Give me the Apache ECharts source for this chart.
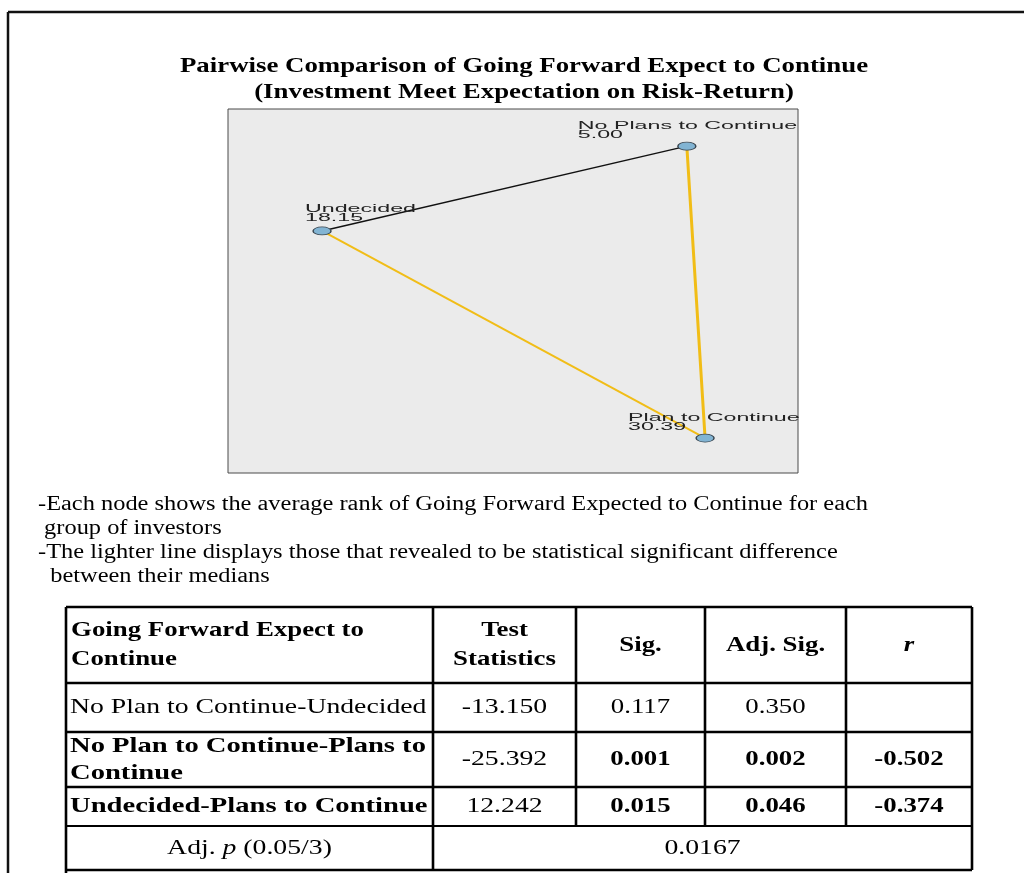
<!DOCTYPE html>
<html>
<head>
<meta charset="utf-8">
<script src="https://cdn.jsdelivr.net/npm/echarts@6/dist/echarts.min.js"></script>
<style>
  html, body { margin: 0; padding: 0; background: #ffffff; }
  #chart { width: 1024px; height: 873px; }
</style>
</head>
<body>
<div id="chart"></div>
<script>
// ---- Data -------------------------------------------------------------
// Investor groups and their average rank
const groupNames = ['No Plans to Continue', 'Undecided', 'Plan to Continue'];
const meanRanks = [5.00, 18.15, 30.39];

// Pairwise comparisons (indexes into groupNames)
const pairNodes = [[0, 1], [0, 2], [1, 2]];
const pairLabels = [
  'No Plan to Continue-Undecided',
  'No Plan to Continue-Plans to\nContinue',
  'Undecided-Plans to Continue'
];
const testStatistics = [-13.150, -25.392, 12.242];
const sigValues = [0.117, 0.001, 0.015];
const adjSigValues = [0.350, 0.002, 0.046];
const effectR = [null, -0.502, -0.374];
const adjustedP = 0.0167;

const headerLabels = ['Going Forward Expect to\nContinue', 'Test\nStatistics', 'Sig.', 'Adj. Sig.', 'r'];
const titleLines = [
  'Pairwise Comparison of Going Forward Expect to Continue',
  '(Investment Meet Expectation on Risk-Return)'
];
const noteLines = [
  '-Each node shows the average rank of Going Forward Expected to Continue for each',
  ' group of investors',
  '-The lighter line displays those that revealed to be statistical significant difference',
  '  between their medians'
];

// ---- Layout & style ---------------------------------------------------
// node placement inside the network panel (0..100 on both axes)
const nodeLayout = [[80.5, 10.2], [16.5, 33.5], [83.7, 90.4]];
const labelOffset = [[-109, -6], [-17, -8], [-77, -6]];
const linkWidth = [1.5, 3, 2];
const colEdges = [66, 433, 576, 705, 846, 972];
const rowEdges = [607, 683, 732, 787, 826, 870];

const SERIF = '"Liberation Serif", "Times New Roman", serif';
const SANS = '"Liberation Sans", Arial, sans-serif';
const DOC_SX = 1.22;
const GOLD = '#f1bd17';

const chart = echarts.init(document.getElementById('chart'), null, { renderer: 'canvas' });

const isSig = sigValues.map(v => v < adjustedP);

chart.setOption({
  animation: false,
  backgroundColor: '#ffffff',
  grid: {
    left: 228, top: 109, width: 570, height: 364,
    show: true, backgroundColor: '#ebebeb', borderColor: '#4a4a4a', borderWidth: 1
  },
  xAxis: { type: 'value', min: 0, max: 100, show: false },
  yAxis: { type: 'value', min: 0, max: 100, inverse: true, show: false },
  series: [{
    type: 'graph',
    coordinateSystem: 'cartesian2d',
    silent: true,
    symbol: 'circle',
    symbolSize: [18, 8],
    edgeSymbol: ['none', 'none'],
    itemStyle: { color: '#82b4d3', borderColor: '#3a4650', borderWidth: 1 },
    label: { show: false },
    data: groupNames.map((n, i) => ({ name: n, value: nodeLayout[i] })),
    links: pairNodes.map((p, i) => ({
      source: p[0], target: p[1],
      lineStyle: {
        color: isSig[i] ? GOLD : '#111111',
        width: linkWidth[i], opacity: 1, curveness: 0
      }
    }))
  }]
});

// ---- Text & table graphics --------------------------------------------
function text(x, y, str, size, o) {
  o = o || {};
  return {
    type: 'text', x: x, y: y, scaleX: o.sx || DOC_SX, z: 20, silent: true,
    style: {
      text: str,
      font: (o.italic ? 'italic ' : '') + (o.bold ? 'bold ' : '') + size + 'px ' + (o.family || SERIF),
      fill: o.fill || '#000000',
      textAlign: o.align || 'left',
      textVerticalAlign: o.valign || 'middle',
      lineHeight: o.lh || Math.round(size * 1.2),
      rich: o.rich
    }
  };
}
function line(x1, y1, x2, y2, w, c) {
  return {
    type: 'line', z: 15, silent: true,
    shape: { x1: x1, y1: y1, x2: x2, y2: y2 },
    style: { stroke: c || '#000000', lineWidth: w }
  };
}

const els = [];

// outer frame
els.push(line(8, 12, 1024, 12, 2.5, '#111111'));
els.push(line(8, 12, 8, 873, 2.5, '#111111'));

// title
titleLines.forEach((t, i) => els.push(text(524, 66 + i * 26, t, 22, { bold: true, align: 'center' })));

// notes
noteLines.forEach((t, i) => els.push(text(38, 505 + i * 24, t, 20)));

// node labels placed from the panel scales
groupNames.forEach((n, i) => {
  const p = chart.convertToPixel({ gridIndex: 0 }, nodeLayout[i]);
  els.push({
    type: 'text', x: p[0] + labelOffset[i][0], y: p[1] + labelOffset[i][1],
    scaleX: 2.32, z: 60, silent: true,
    style: {
      text: n + '\n' + meanRanks[i].toFixed(2),
      font: '10px ' + SANS, fill: '#222222',
      textAlign: 'left', textVerticalAlign: 'bottom', lineHeight: 9
    }
  });
});

// table grid
const tL = colEdges[0], tR = colEdges[colEdges.length - 1];
rowEdges.forEach((y, i) => els.push(line(tL, y, tR, y, i === rowEdges.length - 2 ? 2 : 2.6)));
els.push(line(tL, rowEdges[0], tL, 873, 2.6));
els.push(line(tR, rowEdges[0], tR, rowEdges[rowEdges.length - 1], 2.6));
els.push(line(colEdges[1], rowEdges[0], colEdges[1], rowEdges[rowEdges.length - 1], 2.6));
for (let c = 2; c < colEdges.length - 1; c++) {
  els.push(line(colEdges[c], rowEdges[0], colEdges[c], rowEdges[rowEdges.length - 2], 2.6));
}

const colCenter = c => (colEdges[c] + colEdges[c + 1]) / 2;
const rowCenter = r => (rowEdges[r] + rowEdges[r + 1]) / 2;
const TS = 22;
const REG_SX = 1.26, BOLD_SX = 1.3;

// header row
els.push(text(colEdges[0] + 5, rowCenter(0), headerLabels[0], TS, { bold: true, lh: 29 }));
for (let c = 1; c < headerLabels.length; c++) {
  els.push(text(colCenter(c), rowCenter(0), headerLabels[c], TS,
    { bold: true, italic: c === 4, align: 'center', lh: 29 }));
}

// comparison rows
pairLabels.forEach((lab, i) => {
  const r = i + 1, y = rowCenter(r), b = isSig[i];
  els.push(text(colEdges[0] + 4, y, lab, TS, { bold: b, lh: 27, sx: b ? BOLD_SX : REG_SX }));
  els.push(text(colCenter(1), y, testStatistics[i].toFixed(3), TS, { align: 'center', sx: REG_SX }));
  els.push(text(colCenter(2), y, sigValues[i].toFixed(3), TS, { bold: b, align: 'center' }));
  els.push(text(colCenter(3), y, adjSigValues[i].toFixed(3), TS, { bold: b, align: 'center' }));
  if (effectR[i] !== null) {
    els.push(text(colCenter(4), y, effectR[i].toFixed(3), TS, { bold: true, align: 'center' }));
  }
});

// adjusted p row
const lastRow = rowEdges.length - 2;
els.push(text(colCenter(0), rowCenter(lastRow), '{a|Adj. }{i|p}{a| (0.05/3)}', TS, {
  align: 'center', sx: REG_SX,
  rich: {
    a: { font: TS + 'px ' + SERIF, fill: '#000' },
    i: { font: 'italic ' + TS + 'px ' + SERIF, fill: '#000' }
  }
}));
els.push(text((colEdges[1] + tR) / 2, rowCenter(lastRow), adjustedP.toFixed(4), TS, { align: 'center', sx: REG_SX }));

chart.setOption({ graphic: { elements: els } });
</script>
</body>
</html>
